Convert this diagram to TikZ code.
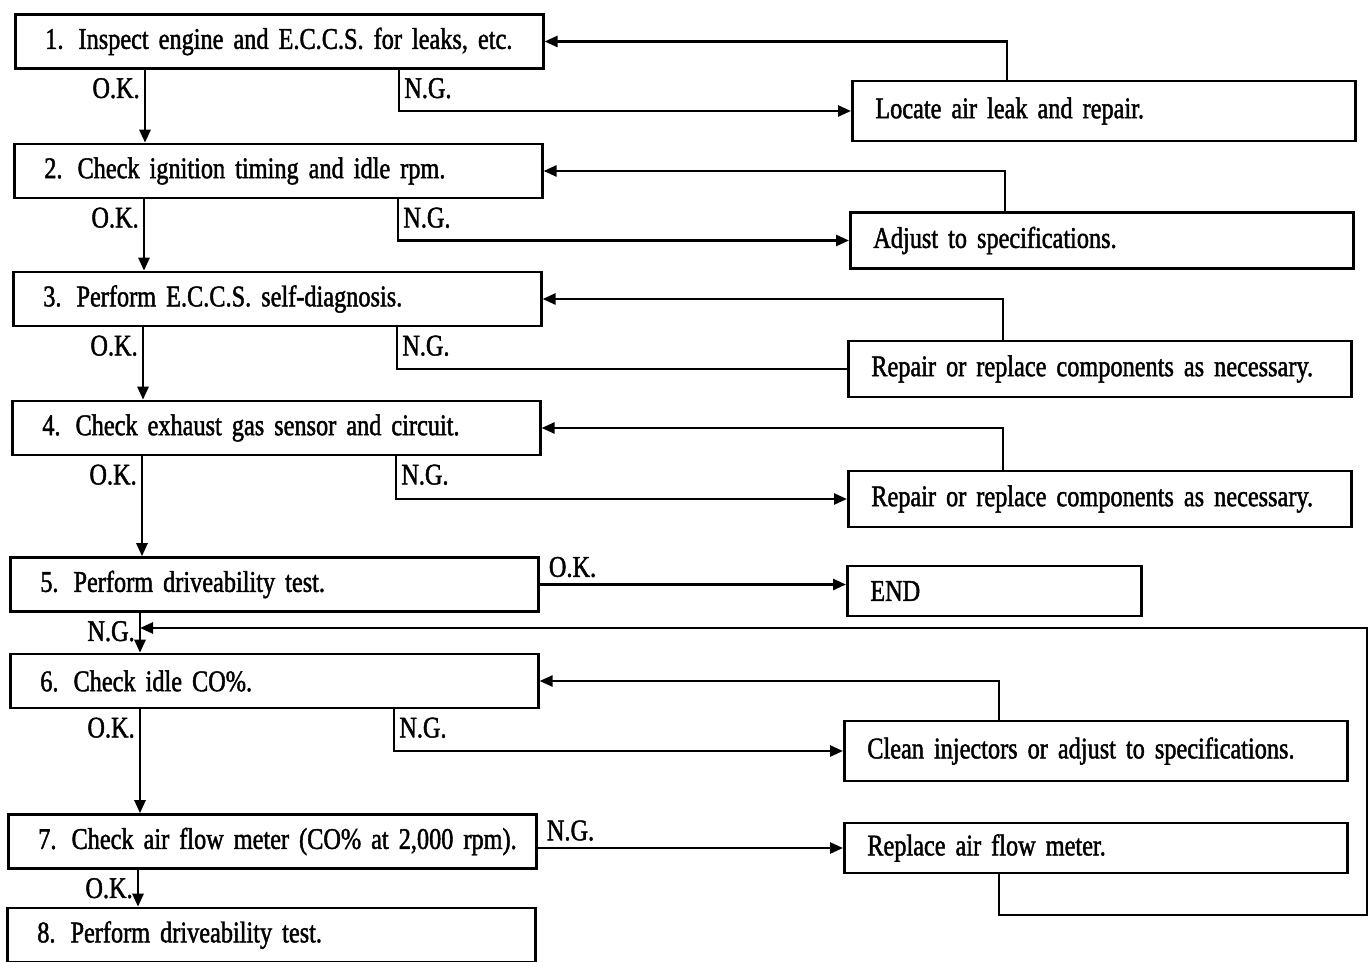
\documentclass[tikz,border=0pt]{standalone}
\usepackage{fontspec}
\setmainfont[FakeStretch=0.81,FakeBold=1.5]{Liberation Serif}
\usetikzlibrary{arrows.meta,positioning}
\newcommand{\chartfont}{\fontsize{15}{17}\selectfont
  \spaceskip=3pt plus 1pt minus 1pt\relax}

\begin{document}
\begin{tikzpicture}[
  x=0.5pt, y=-0.5pt, line width=1.3pt,
  font=\chartfont,
  chk/.style={rectangle, draw, anchor=west, minimum width=264pt,
    minimum height=27pt, text width=264pt, inner xsep=0pt, align=left,
    execute at begin node=\hspace*{15pt}\hbox\bgroup,
    execute at end node=\egroup},
  fix/.style={rectangle, draw, anchor=west, minimum width=#1,
    minimum height=28pt, text width=#1, inner xsep=0pt, align=left,
    execute at begin node=\hspace*{11.5pt}},
  fix/.default=251.5pt,
  lbl/.style={inner sep=2pt},
  arr/.style={-{Triangle[length=6.5pt,width=5.5pt]}},
  bare/.style={}
]
\useasboundingbox (0,0) rectangle (1370,962);
% Left: check steps
\node[chk] (s1) at (14,41.5) {1. Inspect engine and E.C.C.S. for leaks, etc.};
\node[chk] (s2) at (13,171) {2. Check ignition timing and idle rpm.};
\node[chk] (s3) at (12,299) {3. Perform E.C.C.S. self-diagnosis.};
\node[chk] (s4) at (11,428) {4. Check exhaust gas sensor and circuit.};
\node[chk] (s5) at (9,584.5) {5. Perform driveability test.};
\node[chk] (s6) at (9,681) {6. Check idle CO\%.};
\node[chk] (s7) at (7,841.5) {7. Check air flow meter (CO\% at 2,000 rpm).};
\node[chk] (s8) at (6,935) {8. Perform driveability test.};
% Right: remedies
\node[fix, minimum height=30pt] (r1) at (851,111) {Locate air leak and repair.};
\node[fix] (r2) at (849,240.5) {Adjust to specifications.};
\node[fix] (r3) at (847,369) {Repair or replace components as necessary.};
\node[fix] (r4) at (847,499) {Repair or replace components as necessary.};
\node[fix=147pt, minimum height=25pt] (endb) at (846,591) {END};
\node[fix, minimum height=30pt] (r6) at (843,751) {Clean injectors or adjust to specifications.};
\node[fix, minimum height=25pt] (r7) at (843,848) {Replace air flow meter.};
% Down the left column
\foreach \a/\b/\t in {s1/s2/O.K., s2/s3/O.K., s3/s4/O.K., s4/s5/O.K.,
    s5/s6/N.G., s6/s7/O.K., s7/s8/O.K.} {
  \coordinate (ok\a) at ([xshift=65.5pt]\a.south west);
  \draw[arr] (ok\a) -- (ok\a |- \b.north)
    node[lbl, pos=0, anchor=north east, yshift=-1.5pt] (l\a) {\t};
}
% N.G. out and back
\foreach \a/\r/\tip in {s1/r1/arr, s2/r2/arr, s3/r3/bare, s4/r4/arr, s6/r6/arr} {
  \draw[\tip] ([xshift=192.5pt]\a.south west) |- (\r.west)
    node[lbl, pos=0, anchor=north west, yshift=-1.5pt] (n\a) {N.G.};
  \draw[arr] ([xshift=78pt]\r.north west) |- (\a.east);
}
\draw[arr] (s5.east) -- (s5.east -| endb.west)
  node[lbl, pos=0, anchor=south west, xshift=2pt, yshift=1pt] (oks) {O.K.};
\draw[arr] (r7.west -| s7.east) -- (r7.west)
  node[lbl, pos=0, anchor=south west, xshift=2pt, yshift=1pt] (ngs) {N.G.};
% Air flow meter loops back to step 6
\coordinate (back) at (oks5 |- 0,628);
\draw[arr] ([xshift=78pt]r7.south west) |- (1367,915) |- (back);
\end{tikzpicture}
\end{document}
